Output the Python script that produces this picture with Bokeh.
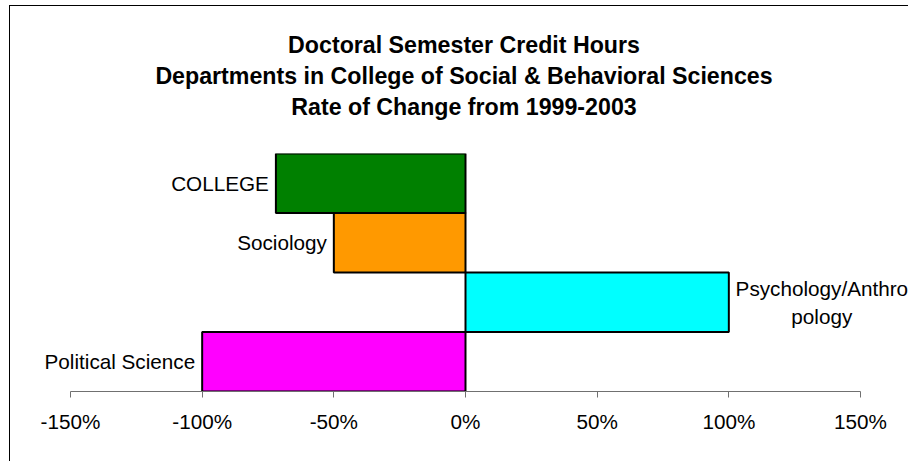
from bokeh.plotting import figure
from bokeh.models import (ColumnDataSource, FactorRange, Range1d, FixedTicker,
                          NumeralTickFormatter, Title, InlineStyleSheet)
from bokeh.core.properties import value
from bokeh.embed import file_html
from bokeh.resources import INLINE

# ---- data ----
categories = ["COLLEGE", "Sociology", "Psychology/Anthropology", "Political Science"]
rates = [-0.72, -0.50, 1.00, -1.00]
tick_values = [-1.5, -1.0, -0.5, 0.0, 0.5, 1.0, 1.5]
title_lines = [
    "Doctoral Semester Credit Hours",
    "Departments in College of Social & Behavioral Sciences",
    "Rate of Change from 1999-2003",
]

# ---- styles ----
colors = ["#008000", "#FF9900", "#00FFFF", "#FF00FF"]
FONT = "Liberation Sans"
W, H = 908, 461
FRAME_L = 19                      # left edge of the drawing frame
PLOT_L, PLOT_R = 70, 860          # pixel span of the -150%..150% axis
FRAME_T, FRAME_B = 153, 391
px_per_unit = (PLOT_R - PLOT_L) / (tick_values[-1] - tick_values[0])
x_start = tick_values[0] - (PLOT_L - FRAME_L) / px_per_unit
x_end = tick_values[-1] + (W - PLOT_R) / px_per_unit

label_text = [c if len(c) <= 17 else c[:17] + "\n" + c[17:] for c in categories]
label_align = ["right" if r < 0 else "center" for r in rates]
label_dx = [-7 if r < 0 else 93 for r in rates]

src = ColumnDataSource(dict(
    cat=categories, rate=rates, color=colors,
    label=label_text, align=label_align, dx=label_dx,
))

p = figure(
    width=W, height=H,
    y_range=FactorRange(factors=list(reversed(categories)), range_padding=0),
    x_range=Range1d(x_start, x_end),
    output_backend="svg", toolbar_location=None,
    y_axis_location=None,
    min_border_left=FRAME_L, min_border_right=0,
    min_border_top=FRAME_T, min_border_bottom=H - FRAME_B,
)
p.title = None
p.background_fill_color = "white"
p.border_fill_color = "white"
p.outline_line_color = None
p.xgrid.grid_line_color = None
p.ygrid.grid_line_color = None

p.hbar(y="cat", left=0, right="rate", height=1.0, fill_color="color",
       line_color="black", line_width=2, source=src)

p.text(x="rate", y="cat", text="label", text_align="align", x_offset="dx",
       text_baseline="middle", text_font=value(FONT), text_font_size="20.7px",
       text_color="black", text_line_height=1.2, source=src)

ax = p.xaxis[0]
ax.bounds = (tick_values[0], tick_values[-1])
ax.ticker = FixedTicker(ticks=tick_values)
ax.formatter = NumeralTickFormatter(format="0%")
ax.axis_line_color = "#707070"
ax.axis_line_width = 1
ax.major_tick_line_color = "#707070"
ax.major_tick_in = 0
ax.major_tick_out = 6
ax.minor_tick_line_color = None
ax.major_label_text_font = FONT
ax.major_label_text_font_size = "20.7px"
ax.major_label_text_color = "black"
ax.major_label_standoff = 12

# blank spacer between the frame and the last title line
p.add_layout(Title(text=" ", text_font_size="1px", standoff=29), "above")
for line in reversed(title_lines):
    p.add_layout(Title(text=line, align="center", text_font=FONT,
                       text_font_size="23.2px", text_font_style="bold",
                       text_color="black", standoff=3), "above")

# chart-area border (left and top edges are visible in the picture)
p.stylesheets = [InlineStyleSheet(css=(
    ":host { position: relative; }"
    ":host::after { content: ''; position: absolute; left: 9px; top: 5px;"
    " right: 0; bottom: 0; border-left: 1.5px solid black;"
    " border-top: 1.5px solid black; pointer-events: none; z-index: 100; }"
))]

open("out.html", "w").write(file_html(p, INLINE))
